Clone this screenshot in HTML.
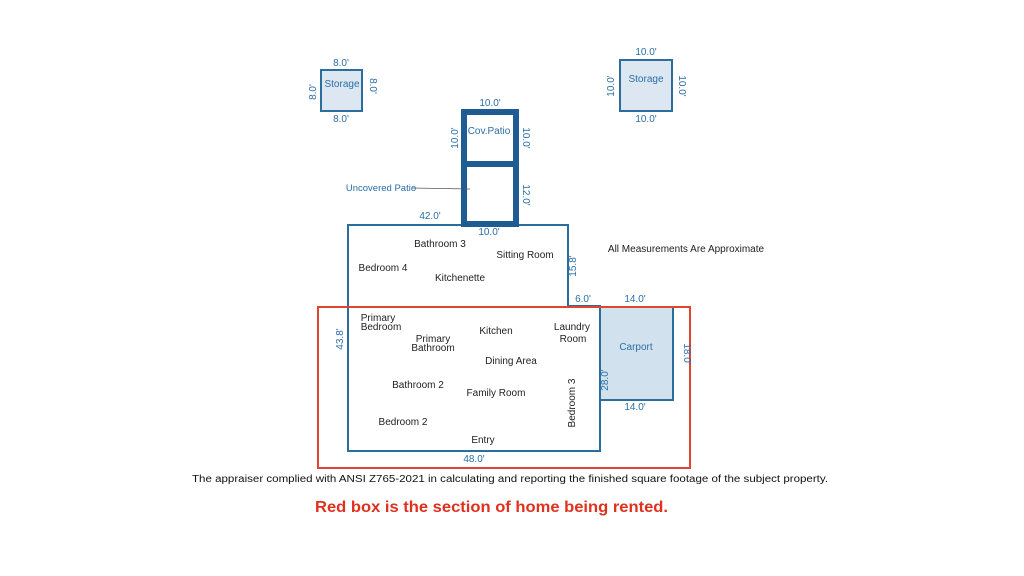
<!DOCTYPE html>
<html><head><style>body{margin:0;background:#fff}svg{display:block}text{font-family:"Liberation Sans",sans-serif}</style></head><body>
<svg width="1024" height="576" xmlns="http://www.w3.org/2000/svg">
<rect width="1024" height="576" fill="#fff"/>
<g fill="none" stroke="#2b6e9e">
<rect x="321" y="70" width="41" height="41" fill="#dce7f1" stroke-width="2"/>
<rect x="620" y="60" width="52" height="51" fill="#dce7f1" stroke-width="2"/>
<rect x="600" y="307" width="73" height="93" fill="#d2e1ee" stroke-width="2"/>
<path d="M348 225H568V306H600V451H348Z" stroke-width="2"/>
<rect x="464" y="112" width="52" height="112" stroke="#1f5c93" stroke-width="6"/>
<line x1="464" y1="164" x2="516" y2="164" stroke="#1f5c93" stroke-width="6"/>
</g>
<line x1="412" y1="188" x2="470" y2="189" stroke="#555" stroke-width="0.7"/>
<rect x="318" y="307" width="372" height="161" fill="none" stroke="#e0452f" stroke-width="2"/>
<g fill="#2b6ea8" font-size="10" text-anchor="middle">
<text x="341" y="66">8.0'</text><text x="341" y="122">8.0'</text>
<text x="342" y="87">Storage</text>
<text transform="translate(316,92) rotate(-90)">8.0'</text>
<text transform="translate(370,86) rotate(90)">8.0'</text>
<text x="646" y="55">10.0'</text><text x="646" y="122">10.0'</text>
<text x="646" y="82">Storage</text>
<text transform="translate(614,86) rotate(-90)">10.0'</text>
<text transform="translate(679,86) rotate(90)">10.0'</text>
<text x="490" y="106">10.0'</text>
<text x="489" y="134">Cov.Patio</text>
<text transform="translate(458,138) rotate(-90)">10.0'</text>
<text transform="translate(523,138) rotate(90)">10.0'</text>
<text transform="translate(523,195) rotate(90)">12.0'</text>
<text x="381" y="191" font-size="9.5">Uncovered Patio</text>
<text x="430" y="219">42.0'</text>
<text x="489" y="235">10.0'</text>
<text transform="translate(576,266) rotate(-90)">15.8'</text>
<text x="583" y="302">6.0'</text>
<text x="635" y="302">14.0'</text>
<text x="635" y="410">14.0'</text>
<text transform="translate(343,339) rotate(-90)">43.8'</text>
<text transform="translate(608,380) rotate(-90)">28.0'</text>
<text transform="translate(684,354) rotate(90)">18.0'</text>
<text x="636" y="350">Carport</text>
<text x="474" y="462">48.0'</text>
</g>
<g fill="#222" font-size="10" text-anchor="middle">
<text x="440" y="247">Bathroom 3</text>
<text x="525" y="258">Sitting Room</text>
<text x="383" y="271">Bedroom 4</text>
<text x="460" y="281">Kitchenette</text>
<text x="686" y="252">All Measurements Are Approximate</text>
<text x="378" y="321">Primary</text><text x="381" y="330">Bedroom</text>
<text x="433" y="342">Primary</text><text x="433" y="351">Bathroom</text>
<text x="496" y="334">Kitchen</text>
<text x="572" y="330">Laundry</text><text x="573" y="342">Room</text>
<text x="511" y="364">Dining Area</text>
<text x="418" y="388">Bathroom 2</text>
<text x="496" y="396">Family Room</text>
<text transform="translate(575,403) rotate(-90)">Bedroom 3</text>
<text x="403" y="425">Bedroom 2</text>
<text x="483" y="443">Entry</text>
</g>
<text x="192" y="482" fill="#111" font-size="10" textLength="636" lengthAdjust="spacingAndGlyphs">The appraiser complied with ANSI Z765-2021 in calculating and reporting the finished square footage of the subject property.</text>
<text x="315" y="512" fill="#e0301e" font-size="16" font-weight="bold" textLength="353" lengthAdjust="spacingAndGlyphs">Red box is the section of home being rented.</text>
</svg>
</body></html>
